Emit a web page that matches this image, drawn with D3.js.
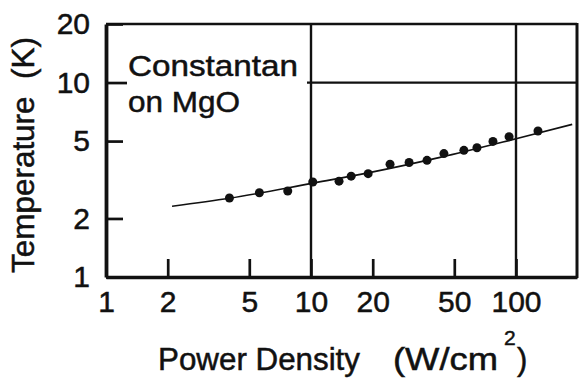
<!DOCTYPE html>
<html><head><meta charset="utf-8">
<script src="https://cdn.jsdelivr.net/npm/d3@7"></script>
<style>
html,body{margin:0;padding:0;background:#fff;}
svg{display:block;}
text{font-family:"Liberation Sans",Arial,Helvetica,sans-serif;fill:#111;stroke:#111;stroke-width:0.5px;}
</style></head>
<body>
<svg id="chart" width="579" height="379"></svg>
<script>
// Data
const powerDensity = [4.0, 5.6, 7.7, 10.2, 13.7, 15.7, 19.0, 24.3, 30.1, 36.8, 44.5, 55.7, 64.5, 77.2, 92.5, 128];
const temperature  = [2.55, 2.71, 2.77, 3.08, 3.11, 3.30, 3.40, 3.80, 3.88, 3.98, 4.31, 4.48, 4.62, 4.98, 5.27, 5.63];
const fitPower = [2.1, 4.0, 10.1, 19, 42.6, 100, 188];
const fitTemp  = [2.31, 2.54, 3.03, 3.43, 4.12, 5.14, 6.09];
const xTickValues = [1, 2, 5, 10, 20, 50, 100];
const yTickValues = [1, 2, 5, 10, 20];
const xGridValues = [10, 100];
const yGridValues = [10];

const svg = d3.select("#chart");
const pLeft = 106, pRight = 577, pTop = 24, pBottom = 277;

const x = d3.scaleLog().domain([1, Math.pow(10, (pRight - pLeft) / 205)]).range([pLeft, pRight]);
const y = d3.scaleLog().domain([1, 20]).range([pBottom, pTop]);

// frame (top and right)
svg.append("line").attr("x1", pLeft).attr("x2", pRight).attr("y1", pTop).attr("y2", pTop)
  .attr("stroke", "#111").attr("stroke-width", 2.6);
svg.append("line").attr("x1", pRight).attr("x2", pRight).attr("y1", pTop - 1).attr("y2", pBottom + 1)
  .attr("stroke", "#111").attr("stroke-width", 3);

// grid lines
svg.selectAll(".vgrid").data(xGridValues).enter().append("line")
  .attr("x1", d => x(d)).attr("x2", d => x(d)).attr("y1", pTop).attr("y2", pBottom)
  .attr("stroke", "#111").attr("stroke-width", 2.4);
svg.selectAll(".hgrid").data(yGridValues).enter().append("line")
  .attr("x1", x(10) - 4).attr("x2", pRight).attr("y1", d => y(d)).attr("y2", d => y(d))
  .attr("stroke", "#111").attr("stroke-width", 2.2);

// axes
const xAxis = d3.axisBottom(x).tickValues(xTickValues).tickFormat(d3.format("d"))
  .tickSizeInner(-18).tickSizeOuter(0).tickPadding(14);
const gx = svg.append("g").attr("transform", `translate(0,${pBottom})`).call(xAxis);
gx.select(".domain").attr("stroke", "#111").attr("stroke-width", 3.6);
gx.selectAll(".tick line").attr("stroke", "#111").attr("stroke-width", 2.7);
gx.selectAll(".tick text").attr("font-size", 30).attr("fill", "#111")
  .attr("font-family", "'Liberation Sans', Arial, sans-serif");

const yAxis = d3.axisLeft(y).tickValues(yTickValues).tickFormat(d3.format("d"))
  .tickSizeInner(-18).tickSizeOuter(0).tickPadding(16);
const gy = svg.append("g").attr("transform", `translate(${pLeft},0)`).call(yAxis);
gy.select(".domain").attr("stroke", "#111").attr("stroke-width", 3.8);
gy.selectAll(".tick line").attr("stroke", "#111").attr("stroke-width", 2.7)
  .attr("x2", d => d === 10 ? 21 : 17);
gy.selectAll(".tick text").attr("font-size", 30).attr("fill", "#111")
  .attr("font-family", "'Liberation Sans', Arial, sans-serif");

// fit curve
const line = d3.line().x(d => x(d[0])).y(d => y(d[1])).curve(d3.curveMonotoneX);
svg.append("path").datum(fitPower.map((p, i) => [p, fitTemp[i]]))
  .attr("d", line).attr("fill", "none").attr("stroke", "#111").attr("stroke-width", 1.7);

// data points
svg.selectAll(".pt").data(powerDensity.map((p, i) => [p, temperature[i]])).enter()
  .append("circle").attr("cx", d => x(d[0])).attr("cy", d => y(d[1])).attr("r", 4.5)
  .attr("fill", "#111");

// annotation
svg.append("text").attr("x", 128).attr("y", 76).attr("font-size", 30)
  .attr("textLength", 170).attr("lengthAdjust", "spacingAndGlyphs").text("Constantan");
svg.append("text").attr("x", 128).attr("y", 112).attr("font-size", 30)
  .attr("textLength", 112).attr("lengthAdjust", "spacingAndGlyphs").text("on MgO");

// axis titles
svg.append("text").attr("transform", "translate(34,155) rotate(-90)")
  .attr("text-anchor", "middle").attr("font-size", 31)
  .attr("textLength", 236).attr("lengthAdjust", "spacingAndGlyphs")
  .text("Temperature\u00a0\u00a0(K)");

const xt = svg.append("text").attr("font-size", 31);
xt.append("tspan").attr("x", 158).attr("y", 370).attr("textLength", 202)
  .attr("lengthAdjust", "spacingAndGlyphs").text("Power Density");
xt.append("tspan").attr("x", 393).attr("y", 370).attr("textLength", 105)
  .attr("lengthAdjust", "spacingAndGlyphs").text("(W/cm");
xt.append("tspan").attr("x", 504).attr("y", 345).attr("font-size", 21).text("2");
xt.append("tspan").attr("x", 517).attr("y", 370).text(")");
</script>
</body></html>
